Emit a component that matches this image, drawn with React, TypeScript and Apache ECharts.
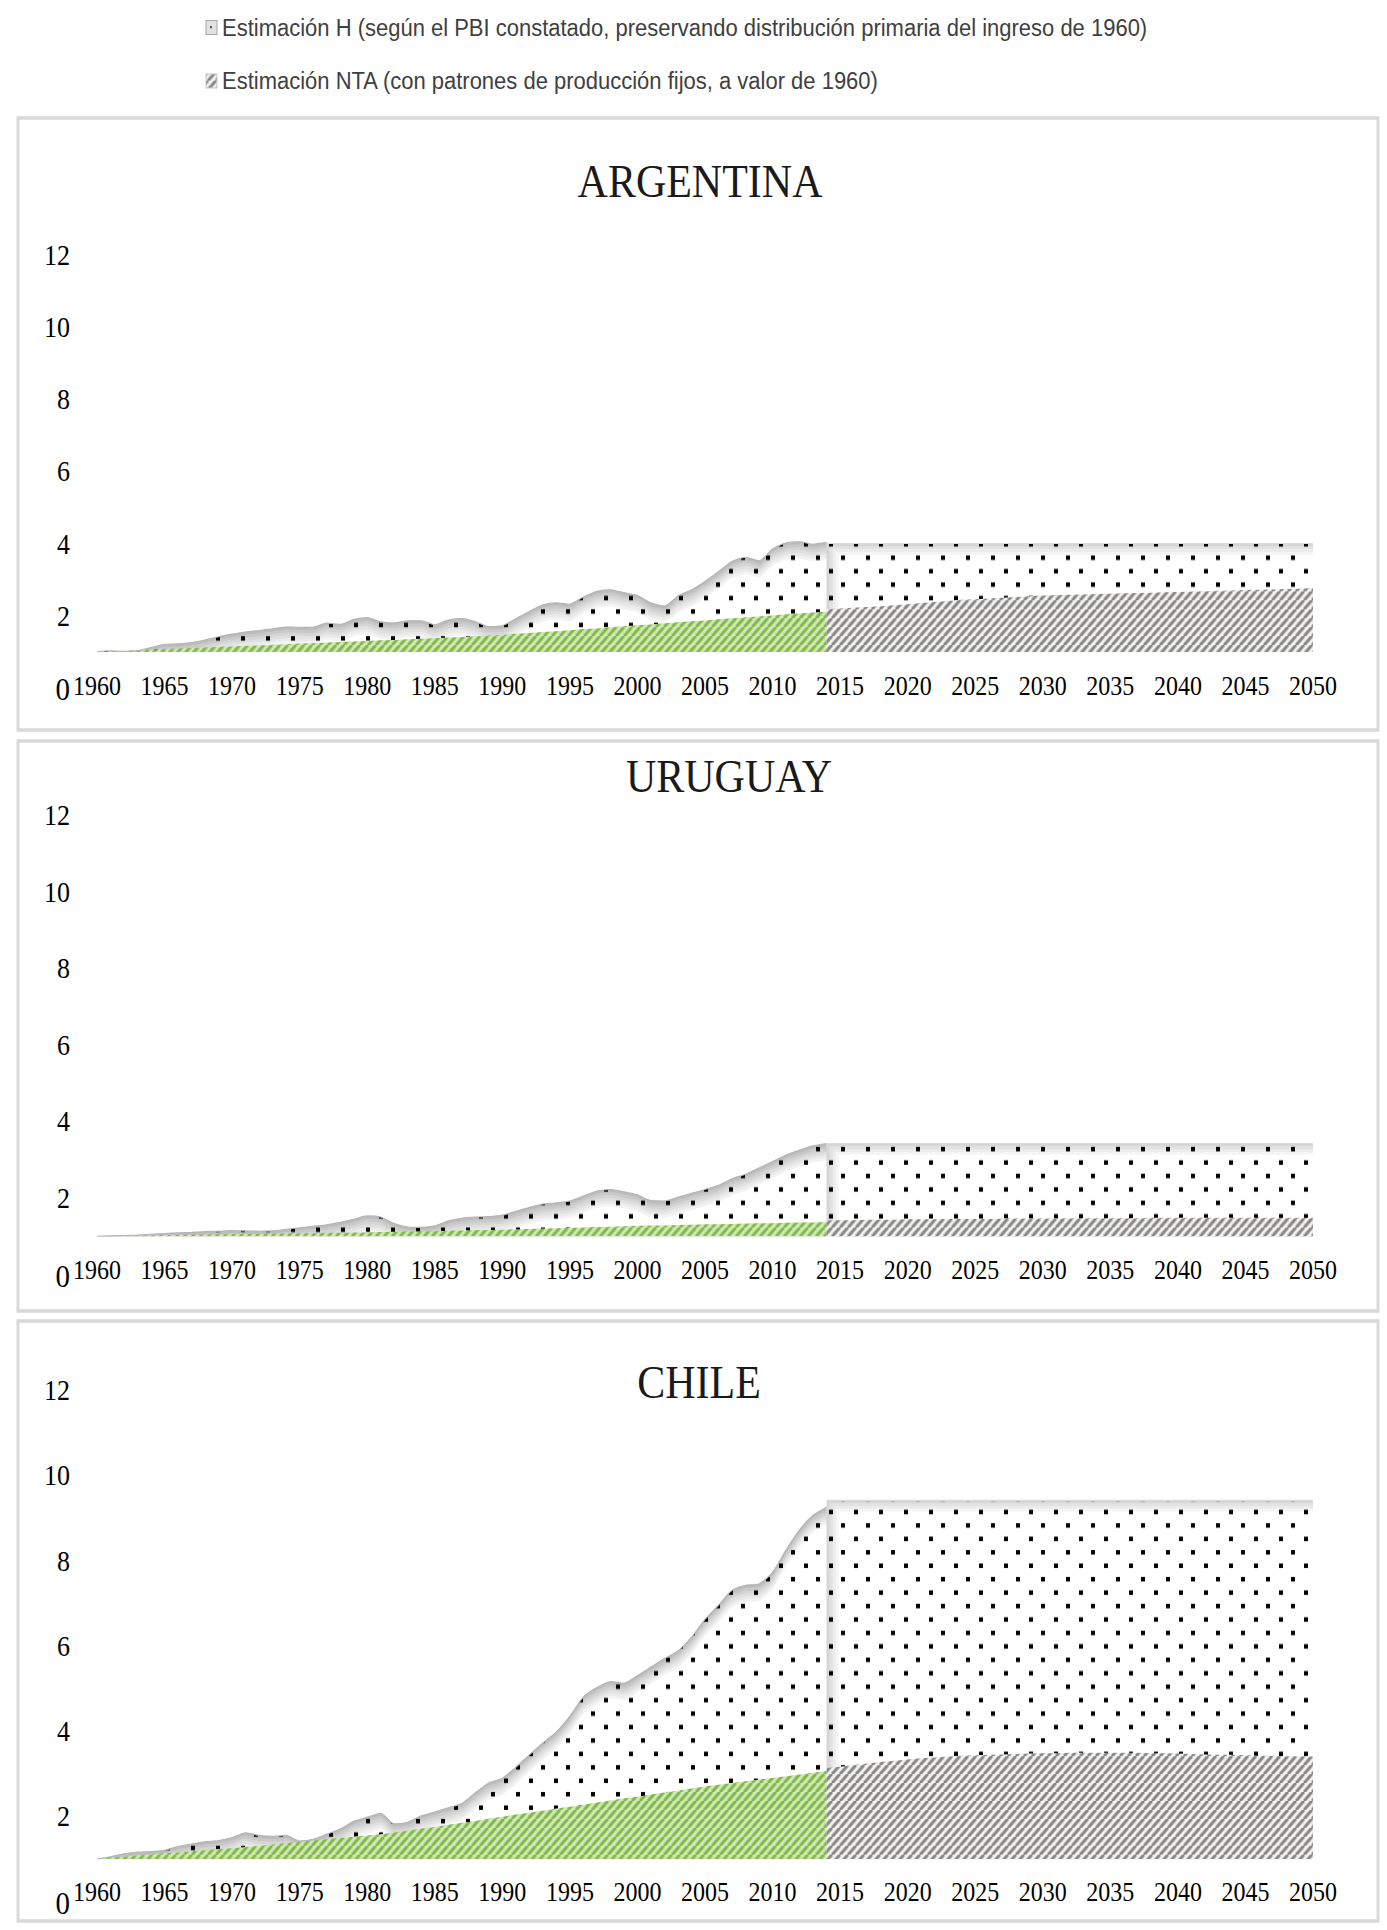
import React, { useEffect, useRef } from 'react';
import * as echarts from 'echarts';

// reference is vertically stretched; chart is drawn in a shorter box and scaled with CSS
const K = 1.12;
const PAGE_W = 1387;
const PAGE_H = 1930;

const FIRST_YEAR = 1960;
const LAST_YEAR = 2050;
const YEARS = Array.from({ length: LAST_YEAR - FIRST_YEAR + 1 }, (_, i) => String(FIRST_YEAR + i));
const OBS_YEARS = YEARS.slice(0, 55); // 1960..2014
const PROJ_YEARS = YEARS.slice(54); // 2014..2050
const PROJ_ENDS = ['2014', '2050'];

const LEGEND_H = 'Estimación H (según el PBI constatado, preservando distribución primaria del ingreso de 1960)';
const LEGEND_NTA = 'Estimación NTA (con patrones de producción fijos, a valor de 1960)';

const COUNTRIES = ['ARGENTINA', 'URUGUAY', 'CHILE'];

const ARG_H = [
  1.00, 1.03, 1.01, 1.03, 1.12, 1.21, 1.22, 1.26, 1.33, 1.42,
  1.49, 1.55, 1.59, 1.64, 1.69, 1.68, 1.68, 1.80, 1.76, 1.90,
  1.95, 1.83, 1.80, 1.86, 1.86, 1.75, 1.88, 1.92, 1.84, 1.70,
  1.72, 1.92, 2.12, 2.30, 2.36, 2.32, 2.52, 2.68, 2.72, 2.64,
  2.56, 2.35, 2.27, 2.55, 2.72, 2.95, 3.22, 3.50, 3.62, 3.52,
  3.85, 4.02, 4.05, 3.98, 4.03,
];
const ARG_NTA = [
  1.00, 1.02, 1.03, 1.05, 1.06, 1.08, 1.09, 1.11, 1.12, 1.14,
  1.15, 1.17, 1.18, 1.20, 1.21, 1.23, 1.24, 1.26, 1.27, 1.29,
  1.30, 1.32, 1.33, 1.35, 1.36, 1.38, 1.40, 1.41, 1.43, 1.45,
  1.47, 1.50, 1.52, 1.55, 1.57, 1.60, 1.63, 1.65, 1.68, 1.71,
  1.74, 1.76, 1.79, 1.82, 1.85, 1.87, 1.90, 1.93, 1.96, 1.98,
  2.01, 2.04, 2.06, 2.09, 2.11,
];
const ARG_H_PROJ = [4.0, 4.0];
const ARG_NTA_PROJ = [
  2.18, 2.20, 2.22, 2.24, 2.26, 2.29, 2.32,
  2.35, 2.38, 2.41, 2.44, 2.46, 2.48, 2.50, 2.52, 2.54, 2.56,
  2.57, 2.58, 2.59, 2.60, 2.61, 2.62, 2.63, 2.64, 2.65, 2.66,
  2.67, 2.68, 2.69, 2.70, 2.71, 2.72, 2.73, 2.74, 2.75, 2.77,
];

const URU_H = [
  1.00, 1.01, 1.02, 1.03, 1.05, 1.07, 1.09, 1.10, 1.12, 1.13,
  1.15, 1.14, 1.13, 1.14, 1.18, 1.22, 1.26, 1.30, 1.36, 1.44,
  1.53, 1.50, 1.33, 1.24, 1.23, 1.27, 1.40, 1.47, 1.50, 1.51,
  1.55, 1.65, 1.75, 1.84, 1.87, 1.92, 2.05, 2.18, 2.22, 2.16,
  2.08, 1.93, 1.92, 2.02, 2.12, 2.22, 2.33, 2.50, 2.62, 2.78,
  2.95, 3.12, 3.25, 3.36, 3.42,
];
const URU_NTA = [
  1.00, 1.01, 1.01, 1.02, 1.02, 1.03, 1.03, 1.04, 1.04, 1.05,
  1.05, 1.06, 1.06, 1.07, 1.07, 1.08, 1.08, 1.09, 1.09, 1.10,
  1.10, 1.11, 1.11, 1.12, 1.12, 1.13, 1.14, 1.15, 1.16, 1.16,
  1.17, 1.18, 1.19, 1.20, 1.21, 1.22, 1.23, 1.24, 1.25, 1.26,
  1.27, 1.28, 1.28, 1.29, 1.30, 1.31, 1.31, 1.32, 1.33, 1.34,
  1.34, 1.35, 1.36, 1.36, 1.37,
];
const URU_H_PROJ = [3.42, 3.42];
const URU_NTA_PROJ = [
  1.41, 1.42, 1.42, 1.43, 1.43, 1.43, 1.44,
  1.44, 1.44, 1.45, 1.45, 1.45, 1.45, 1.46, 1.46, 1.46, 1.46,
  1.46, 1.47, 1.47, 1.47, 1.47, 1.47, 1.47, 1.48, 1.48, 1.48,
  1.48, 1.48, 1.48, 1.48, 1.48, 1.48, 1.48, 1.48, 1.48, 1.48,
];

const CHL_H = [
  1.00, 1.05, 1.12, 1.16, 1.17, 1.20, 1.29, 1.35, 1.40, 1.43,
  1.50, 1.61, 1.55, 1.53, 1.55, 1.42, 1.46, 1.58, 1.70, 1.88,
  1.98, 2.07, 1.82, 1.86, 2.01, 2.10, 2.20, 2.30, 2.55, 2.78,
  2.89, 3.15, 3.44, 3.72, 3.98, 4.35, 4.80, 5.02, 5.16, 5.12,
  5.30, 5.50, 5.70, 5.88, 6.20, 6.62, 6.95, 7.30, 7.42, 7.45,
  7.72, 8.25, 8.72, 9.06, 9.25,
];
const CHL_NTA = [
  1.00, 1.03, 1.05, 1.08, 1.10, 1.13, 1.15, 1.18, 1.20, 1.23,
  1.25, 1.28, 1.31, 1.34, 1.37, 1.40, 1.43, 1.46, 1.49, 1.52,
  1.55, 1.58, 1.62, 1.66, 1.71, 1.75, 1.80, 1.85, 1.89, 1.94,
  1.99, 2.04, 2.08, 2.13, 2.18, 2.22, 2.27, 2.32, 2.37, 2.42,
  2.46, 2.51, 2.56, 2.60, 2.65, 2.70, 2.74, 2.78, 2.82, 2.86,
  2.90, 2.94, 2.98, 3.02, 3.06,
];
const CHL_H_PROJ = [9.41, 9.41];
const CHL_NTA_PROJ = [
  3.13, 3.16, 3.20, 3.24, 3.27, 3.30, 3.33,
  3.36, 3.38, 3.40, 3.42, 3.43, 3.44, 3.45, 3.46, 3.47, 3.48,
  3.48, 3.49, 3.49, 3.49, 3.49, 3.49, 3.49, 3.48, 3.48, 3.47,
  3.46, 3.45, 3.44, 3.44, 3.43, 3.42, 3.42, 3.41, 3.41, 3.40,
];

const Y_MAX = 12;
const Y_STEP = 2;
const AREA_BASE = 1; // index 1960 = 1

// ---- layout (page pixels) ----
const GRID_LEFT = 97;
const GRID_RIGHT_X = 1313;
const GRID_TOP = [254.5, 815, 1390];
const GRID_ZERO = [688, 1274.5, 1901.5];
const XLABEL_Y = [686, 1270, 1892];
const BOXES = [
  { x: 18, y: 118, w: 1360, h: 612 },
  { x: 18, y: 741, w: 1360, h: 570 },
  { x: 18, y: 1321, w: 1360, h: 600 },
];
const TITLE_POS = [
  [700, 181],
  [729, 776],
  [699, 1382],
];
const LEGEND_ROWS = [27.5, 81];

// soft grey rim under the H edge: layers moved (chart px) step by step and lightened
const RIM_OBS = [
  { dx: 0, dy: 0, bg: '#bcbcbc' },
  { dx: 0, dy: 2.5, bg: '#c9c9c9' },
  { dx: 0, dy: 5, bg: '#d5d5d5' },
  { dx: 0, dy: 7.5, bg: '#e0e0e0' },
  { dx: 0, dy: 10, bg: '#eaeaea' },
  { dx: 0, dy: 12.5, bg: '#f3f3f3' },
  { dx: 0, dy: 15, bg: '#ffffff' },
];
const RIM_PROJ = [
  { dx: 0, dy: 0, bg: '#d6d6d6' },
  { dx: 3, dy: 2.5, bg: '#e2e2e2' },
  { dx: 6, dy: 5, bg: '#ececec' },
  { dx: 9, dy: 7.5, bg: '#f5f5f5' },
  { dx: 12, dy: 10, bg: '#ffffff' },
];

const SERIF = "'Liberation Serif', 'Times New Roman', 'DejaVu Serif', serif";
const SANS = "'Liberation Sans', Arial, 'DejaVu Sans', sans-serif";

const sy = (v: number) => v / K;

function makeDots(bg: string) {
  const c = document.createElement('canvas');
  c.width = 25;
  c.height = 24;
  const g = c.getContext('2d')!;
  g.fillStyle = bg;
  g.fillRect(0, 0, 25, 24);
  g.fillStyle = '#000000';
  g.fillRect(4, 4, 4, 4);
  g.fillRect(16, 16, 4, 4);
  return c;
}

function makeHatch(bg: string, fg: string) {
  const c = document.createElement('canvas');
  c.width = 8;
  c.height = 8;
  const g = c.getContext('2d')!;
  g.fillStyle = bg;
  g.fillRect(0, 0, 8, 8);
  g.strokeStyle = fg;
  g.lineWidth = 3;
  for (const k of [-8, 0, 8]) {
    g.beginPath();
    g.moveTo(k, 8);
    g.lineTo(k + 8, 0);
    g.stroke();
  }
  return c;
}

function pat(c: HTMLCanvasElement) {
  return { image: c, repeat: 'repeat', imageWidth: c.width, imageHeight: c.height };
}

function buildOption() {
  const dotCache: Record<string, any> = {};
  const dots = (bg: string) => (dotCache[bg] = dotCache[bg] || pat(makeDots(bg)));
  const green = pat(makeHatch('#d2e7bd', '#80b944'));
  const gray = pat(makeHatch('#f4f3ef', '#878787'));

  const data = [
    { h: ARG_H, nta: ARG_NTA, hp: ARG_H_PROJ, np: ARG_NTA_PROJ },
    { h: URU_H, nta: URU_NTA, hp: URU_H_PROJ, np: URU_NTA_PROJ },
    { h: CHL_H, nta: CHL_NTA, hp: CHL_H_PROJ, np: CHL_NTA_PROJ },
  ];

  const grids: any[] = [];
  const xAxes: any[] = [];
  const yAxes: any[] = [];
  const series: any[] = [];
  const gridW = GRID_RIGHT_X - GRID_LEFT;
  const ppy = gridW / (LAST_YEAR - FIRST_YEAR); // px per year

  data.forEach((d, i) => {
    const top = sy(GRID_TOP[i]);
    const height = sy(GRID_ZERO[i] - GRID_TOP[i]);
    const ppu = height / Y_MAX; // chart px per unit
    const baseY = top + (Y_MAX - AREA_BASE) * ppu;
    // main grid (visible axes)
    const gMain = grids.length;
    grids.push({ left: GRID_LEFT, width: gridW, top, height });
    xAxes.push({
      type: 'category',
      gridIndex: gMain,
      data: YEARS,
      boundaryGap: false,
      axisLine: { show: false },
      axisTick: { show: false },
      splitLine: { show: false },
      axisLabel: {
        interval: 4,
        fontFamily: SERIF,
        fontSize: 24,
        color: '#000',
        verticalAlign: 'middle',
        margin: sy(XLABEL_Y[i] - GRID_ZERO[i]),
      },
    });
    yAxes.push({
      type: 'value',
      gridIndex: gMain,
      min: 0,
      max: Y_MAX,
      interval: Y_STEP,
      axisLine: { show: false },
      axisTick: { show: false },
      splitLine: { show: false },
      axisLabel: {
        margin: 27,
        fontFamily: SERIF,
        fontSize: 26,
        color: '#000',
        formatter: (v: number) => (v === 0 ? '{z|0}' : String(v)),
        rich: { z: { fontFamily: SERIF, fontSize: 29, color: '#000', padding: [3, 0, 0, 0] } },
      },
    });
    // hidden grid with the same value mapping moved by (dx, dy), clipped at the area base
    // and at the right end of the main grid
    const shifted = (dx: number, dy: number) => {
      const gi = grids.length;
      grids.push({ left: GRID_LEFT + dx, width: gridW - dx, top: top + dy, height: baseY - top - dy });
      xAxes.push({
        type: 'value',
        gridIndex: gi,
        min: FIRST_YEAR,
        max: LAST_YEAR - dx / ppy,
        show: false,
      });
      yAxes.push({ type: 'value', gridIndex: gi, min: AREA_BASE + dy / ppu, max: Y_MAX, show: false });
      return { gi, origin: AREA_BASE + dy / ppu };
    };

    const common = {
      type: 'line',
      symbol: 'none',
      showSymbol: false,
      silent: true,
      animation: false,
      clip: true,
    };
    const obsH = OBS_YEARS.map((y, j) => [Number(y), d.h[j]]);
    const projH = [[Number(PROJ_ENDS[0]), d.hp[0]], [Number(PROJ_ENDS[1]), d.hp[1]]];

    RIM_OBS.forEach((layer, k) => {
      const s = shifted(layer.dx, layer.dy);
      series.push({
        ...common,
        name: LEGEND_H,
        xAxisIndex: s.gi,
        yAxisIndex: s.gi,
        smooth: 0.2,
        data: obsH,
        lineStyle: k === 0 ? { color: '#b4b4b4', width: 1 } : { width: 0, opacity: 0 },
        areaStyle: { origin: s.origin, color: dots(layer.bg), opacity: 1 },
      });
    });
    RIM_PROJ.forEach((layer, k) => {
      const s = shifted(layer.dx, layer.dy);
      series.push({
        ...common,
        name: LEGEND_H,
        xAxisIndex: s.gi,
        yAxisIndex: s.gi,
        data: projH,
        lineStyle: k === 0 ? { color: '#dcdcdc', width: 1 } : { width: 0, opacity: 0 },
        areaStyle: { origin: s.origin, color: dots(layer.bg), opacity: 1 },
      });
    });
    // NTA
    series.push({
      ...common,
      name: LEGEND_NTA,
      xAxisIndex: gMain,
      yAxisIndex: gMain,
      data: OBS_YEARS.map((y, j) => [y, d.nta[j]]),
      lineStyle: { width: 0, opacity: 0 },
      areaStyle: { origin: AREA_BASE, color: green, opacity: 1 },
    });
    series.push({
      ...common,
      name: LEGEND_NTA,
      xAxisIndex: gMain,
      yAxisIndex: gMain,
      data: PROJ_YEARS.map((y, j) => [y, d.np[j]]),
      lineStyle: { width: 0, opacity: 0 },
      areaStyle: { origin: AREA_BASE, color: gray, opacity: 1 },
    });
  });

  const graphics: any[] = [];
  BOXES.forEach((b) => {
    graphics.push({
      type: 'rect',
      silent: true,
      shape: { x: b.x, y: sy(b.y), width: b.w, height: sy(b.h) },
      style: { fill: 'none', stroke: '#d9d9d9', lineWidth: 3 },
    });
  });
  COUNTRIES.forEach((name, i) => {
    graphics.push({
      type: 'text',
      silent: true,
      x: TITLE_POS[i][0],
      y: sy(TITLE_POS[i][1]),
      style: {
        text: name,
        fontFamily: SERIF,
        fontSize: 42,
        fill: '#1a1a1a',
        align: 'center',
        verticalAlign: 'middle',
        textAlign: 'center',
        textVerticalAlign: 'middle',
      },
    });
  });
  // legend (icons + labels)
  graphics.push({
    type: 'rect',
    silent: true,
    shape: { x: 206, y: sy(LEGEND_ROWS[0] - 7), width: 11, height: sy(14) },
    style: { fill: '#e2e2e2', stroke: '#a8a8a8', lineWidth: 1 },
  });
  graphics.push({
    type: 'rect',
    silent: true,
    shape: { x: 210, y: sy(LEGEND_ROWS[0] - 1.5), width: 2, height: 2 },
    style: { fill: '#555' },
  });
  graphics.push({
    type: 'rect',
    silent: true,
    shape: { x: 206, y: sy(LEGEND_ROWS[1] - 7), width: 11, height: sy(14) },
    style: { fill: gray, stroke: '#c8c8c8', lineWidth: 1 },
  });
  [LEGEND_H, LEGEND_NTA].forEach((t, i) => {
    graphics.push({
      type: 'text',
      silent: true,
      x: 222,
      y: sy(LEGEND_ROWS[i]),
      style: {
        text: t,
        fontFamily: SANS,
        fontSize: 22,
        fill: '#404040',
        align: 'left',
        verticalAlign: 'middle',
        textAlign: 'left',
        textVerticalAlign: 'middle',
      },
    });
  });

  return {
    animation: false,
    backgroundColor: '#ffffff',
    grid: grids,
    xAxis: xAxes,
    yAxis: yAxes,
    series,
    graphic: graphics,
  };
}

export default function App() {
  const ref = useRef<HTMLDivElement>(null);
  useEffect(() => {
    const el = ref.current;
    if (!el) return;
    const chart = echarts.init(el, undefined, { renderer: 'svg' });
    chart.setOption(buildOption() as any);
    return () => chart.dispose();
  }, []);
  return (
    <div
      ref={ref}
      style={{
        position: 'absolute',
        left: 0,
        top: 0,
        width: PAGE_W,
        height: PAGE_H / K,
        transform: `scaleY(${K})`,
        transformOrigin: '0 0',
        background: '#fff',
      }}
    />
  );
}
